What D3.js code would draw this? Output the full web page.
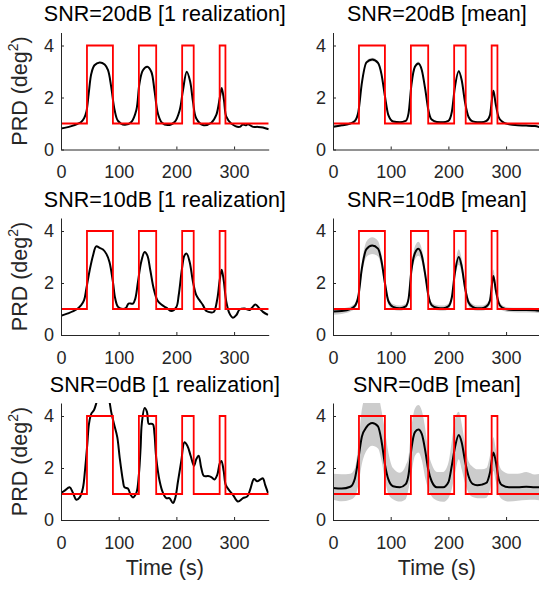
<!DOCTYPE html>
<html><head><meta charset="utf-8">
<script src="https://cdn.jsdelivr.net/npm/d3@7/dist/d3.min.js"></script>
<style>
body{margin:0;background:#fff}
svg{display:block;font-family:"Liberation Sans",Arial,Helvetica,sans-serif}
</style></head><body><script>
// stimulus boxcar (s) and its levels (deg^2)
const stimOn = [45,135,210,275]
const stimOff = [90,165,230,285]
const stimLevels = [1,4]

// single realizations
const t20 = [0,10,18,28,35,40,44,48,52.6,58,67,75.7,81.5,87,93,98.8,110,122,130.5,136,142,149.6,156.5,162,168,175,185,197,205.7,211.4,218,224,228.8,234.5,246,260.5,269,275,278.5,282.5,286.5,295,309.6,315,320,324,332.8,341,350,360]
const v20 = [0.81,0.85,0.9,0.98,1.06,1.2,1.45,2.15,2.92,3.24,3.35,3.27,3.05,2.41,1.51,1.1,0.95,1.06,1.51,2.54,3.05,3.18,2.99,2.28,1.38,1.03,0.94,1.06,1.51,2.28,2.99,2.6,1.83,1.19,0.94,1.03,1.32,1.96,2.37,1.89,1.26,1.0,0.87,0.96,0.93,0.97,0.87,0.87,0.85,0.78]

const t10 = [0,12,26.6,35,40,44,49.7,55.5,61,67,72.8,78.6,84,90,94,98.8,107.5,113,117,124.8,128.8,133.4,139,145,149.6,154.8,160.6,167,173.9,182.5,191,200,204,209.7,214,217.8,223,228.8,234.5,240,246,252,260.5,265,271,275,278.5,282,286.5,292,298,304,309.6,318,327,331,337,344,350,358.8]
const v10 = [0.74,0.83,0.98,1.15,1.34,1.79,2.49,3.06,3.41,3.35,3.29,3.12,2.81,2.04,1.4,1.08,1.0,1.05,1.21,1.21,1.4,2.04,2.81,3.19,3.06,2.49,1.79,1.34,1.17,1.05,0.92,1.08,1.53,2.55,3.06,3.13,2.81,2.04,1.53,1.34,1.15,0.92,0.87,0.89,1.4,2.1,2.51,2.1,1.28,0.83,0.66,0.77,0.98,1.02,0.96,1.05,1.17,1.02,0.89,0.77]

const t0 = [0,6.4,15,20.8,26.6,32.4,38,42,45.6,48.5,52.6,57,61,66,72,78,84,87,91.8,97.6,101.7,107.5,110,116,120.7,124.8,130.6,135,138,140,145,149,152,155.4,159.4,162,165,171,176.8,182.5,188,194,198,202.8,208.5,214,219,224.7,230.5,234.5,238.6,243,247.8,254.8,260.5,266,271,275,278,282,285.4,290.6,298,306.8,315.4,323,328.7,334.5,340,346,350,354,358.8]
const v0 = [1.04,1.13,1.26,1.04,0.78,0.87,1.23,2.01,2.92,3.7,4.09,4.22,4.48,4.9,5.2,5.0,4.55,4.16,3.7,3.18,2.4,1.49,1.26,1.21,0.97,0.87,1.04,1.75,2.79,3.7,4.31,4.16,3.7,3.7,3.68,3.31,2.4,1.49,1.04,0.84,0.84,0.65,0.84,1.49,2.27,2.99,2.86,2.47,2.08,2.34,2.47,2.01,1.69,1.69,1.65,1.56,1.75,2.17,2.27,1.88,1.36,1.17,0.97,0.71,0.84,0.91,1.23,1.58,1.49,1.56,1.6,1.34,1.04]

// means over realizations (shared time grid)
const tGrid = [0,15,30,38,44,50,58,68,78,84,90,96,104,116,126,131,136,142,148,154,160,165,171,180,191,200,206,211,218,223,229,235,242,250,258,266,272,278,282,287,293,305,320,335,350,360]
const mean20 = [0.87,0.93,1.0,1.1,1.45,2.55,3.35,3.46,3.33,2.9,2.05,1.32,1.08,1.05,1.1,1.4,2.5,3.18,3.31,3.05,2.3,1.55,1.15,1.06,1.05,1.1,1.45,2.35,3.01,2.67,1.8,1.25,1.08,1.05,1.05,1.1,1.32,2.26,1.75,1.25,1.08,0.97,0.93,0.92,0.9,0.85]
const sd20 = [0.04,0.04,0.04,0.04,0.05,0.06,0.07,0.07,0.07,0.06,0.05,0.04,0.04,0.04,0.04,0.04,0.05,0.06,0.07,0.06,0.05,0.04,0.04,0.04,0.04,0.04,0.04,0.05,0.06,0.06,0.05,0.04,0.04,0.04,0.04,0.04,0.04,0.06,0.05,0.04,0.04,0.03,0.03,0.03,0.03,0.03]
const mean10 = [0.9,0.92,1.0,1.12,1.5,2.55,3.3,3.44,3.32,2.85,2.0,1.3,1.08,1.03,1.1,1.4,2.5,3.15,3.32,3.05,2.3,1.55,1.15,1.05,1.03,1.1,1.45,2.35,3.0,2.65,1.8,1.25,1.08,1.03,1.03,1.1,1.32,2.27,1.75,1.25,1.05,0.97,0.96,0.96,0.95,0.93]
const sd10 = [0.12,0.11,0.1,0.1,0.14,0.22,0.3,0.32,0.3,0.26,0.2,0.14,0.11,0.1,0.1,0.13,0.2,0.26,0.27,0.25,0.2,0.14,0.11,0.1,0.1,0.11,0.14,0.22,0.3,0.27,0.2,0.14,0.11,0.1,0.1,0.11,0.14,0.25,0.2,0.13,0.1,0.09,0.09,0.09,0.09,0.09]
const mean0 = [1.23,1.21,1.28,1.6,2.35,3.2,3.57,3.73,3.6,3.05,2.14,1.56,1.3,1.26,1.38,1.75,2.75,3.38,3.48,3.3,2.65,1.95,1.49,1.26,1.26,1.45,2.1,2.75,3.27,2.99,2.25,1.68,1.39,1.34,1.36,1.43,1.82,2.6,2.27,1.6,1.34,1.26,1.26,1.28,1.26,1.26]
const hi0 = [1.78,1.76,1.78,2.0,2.9,4.25,4.8,4.9,4.8,4.22,3.44,2.6,2.0,1.82,2.1,2.45,3.57,4.29,4.42,4.2,3.5,2.66,2.15,1.85,1.85,2.2,3.05,3.8,4.16,3.7,2.9,2.25,2.05,1.95,1.95,2.0,2.47,3.18,2.75,2.2,1.9,1.78,1.78,1.85,1.75,1.78]
const lo0 = [0.78,0.72,0.78,0.9,1.36,2.15,2.66,2.86,2.75,2.3,1.55,1.0,0.8,0.71,0.8,1.2,1.82,2.47,2.6,2.3,1.6,1.2,0.91,0.75,0.7,0.84,1.2,1.75,2.34,1.95,1.4,1.04,0.88,0.84,0.84,0.86,1.15,1.88,1.5,1.0,0.8,0.71,0.74,0.77,0.78,0.74]

const xTicks = [0,100,200,300]
const yTicks = [0,2,4]

const panels = [
  {row:0,col:0,title:'SNR=20dB [1 realization]',t:t20,v:v20},
  {row:0,col:1,title:'SNR=20dB [mean]',t:tGrid,v:mean20,lo:mean20.map((m,i)=>m-sd20[i]),hi:mean20.map((m,i)=>m+sd20[i])},
  {row:1,col:0,title:'SNR=10dB [1 realization]',t:t10,v:v10},
  {row:1,col:1,title:'SNR=10dB [mean]',t:tGrid,v:mean10,lo:mean10.map((m,i)=>m-sd10[i]),hi:mean10.map((m,i)=>m+sd10[i])},
  {row:2,col:0,title:'SNR=0dB [1 realization]',t:t0,v:v0},
  {row:2,col:1,title:'SNR=0dB [mean]',t:tGrid,v:mean0,lo:lo0,hi:hi0},
]

const W = 539, H = 590
const colX = [61,333], rowY = [149.5,335,520]
const pw = 207.7, ph = 117
const axisColor = '#262626'
const fontFam = '"Liberation Sans",Arial,Helvetica,sans-serif'

const svg = d3.select('body').append('svg').attr('width',W).attr('height',H)

// stimulus as points for a step line
const stim = [[0,stimLevels[0]]]
stimOn.forEach((on,i) => {
  stim.push([on,stimLevels[0]],[on,stimLevels[1]],[stimOff[i],stimLevels[1]],[stimOff[i],stimLevels[0]])
})
stim.push([360,stimLevels[0]])

panels.forEach((p,k) => {
  const x0 = colX[p.col], yb = rowY[p.row]
  const x = d3.scaleLinear().domain([0,360]).range([x0,x0+pw])
  const y = d3.scaleLinear().domain([0,4.5]).range([yb,yb-ph])
  const g = svg.append('g')

  const clipId = 'clip'+k
  g.append('clipPath').attr('id',clipId).append('rect')
    .attr('x',x0).attr('y',yb-ph).attr('width',pw).attr('height',ph)
  const plot = g.append('g').attr('clip-path',`url(#${clipId})`)

  if(p.lo){
    const area = d3.area().curve(d3.curveMonotoneX)
      .x((d,i) => x(p.t[i])).y0((d,i) => y(p.lo[i])).y1((d,i) => y(p.hi[i]))
    plot.append('path').attr('d',area(p.t)).attr('fill','#cccccc')
  }
  // singles are noisy -> catmull-rom; means -> monotone
  const curve = p.lo ? d3.curveMonotoneX : d3.curveCatmullRom.alpha(0.5)
  const line = d3.line().curve(curve).x((d,i) => x(p.t[i])).y((d,i) => y(p.v[i]))
  plot.append('path').attr('d',line(p.t))
    .attr('fill','none').attr('stroke','#000').attr('stroke-width',2).attr('stroke-linejoin','round')
  plot.append('path').attr('d',d3.line().x(d => x(d[0])).y(d => y(d[1]))(stim))
    .attr('fill','none').attr('stroke','#ff0000').attr('stroke-width',1.8)

  // axes, matlab style (ticks inside, no box)
  const ax = g.append('g').attr('transform',`translate(0,${yb})`)
    .call(d3.axisBottom(x).tickValues(xTicks).tickFormat(d3.format('d')).tickSizeInner(-3).tickSizeOuter(0).tickPadding(16))
  const ay = g.append('g').attr('transform',`translate(${x0},0)`)
    .call(d3.axisLeft(y).tickValues(yTicks).tickFormat(d3.format('d')).tickSizeInner(-3).tickSizeOuter(0).tickPadding(7))
  ;[ax,ay].forEach(a => {
    a.attr('font-family',fontFam).attr('font-size',18).attr('color',axisColor)
    a.selectAll('path,line').attr('stroke-width',1)
  })

  g.append('text').attr('x',x0+pw/2).attr('y',yb-128.5)
    .attr('text-anchor','middle').attr('font-size',21.5).attr('fill','#000')
    .text(p.title)

  if(p.col==0){
    const yl = g.append('text')
      .attr('transform',`translate(27,${yb-ph/2}) rotate(-90)`)
      .attr('text-anchor','middle').attr('font-size',21.5).attr('fill',axisColor)
    yl.append('tspan').text('PRD (deg')
    yl.append('tspan').attr('font-size',14).attr('dy',-9).text('2')
    yl.append('tspan').attr('dy',9).text(')')
  }
  if(p.row==2){
    g.append('text').attr('x',x0+pw/2).attr('y',yb+55)
      .attr('text-anchor','middle').attr('font-size',21.5).attr('fill',axisColor)
      .text('Time (s)')
  }
})
</script></body></html>
